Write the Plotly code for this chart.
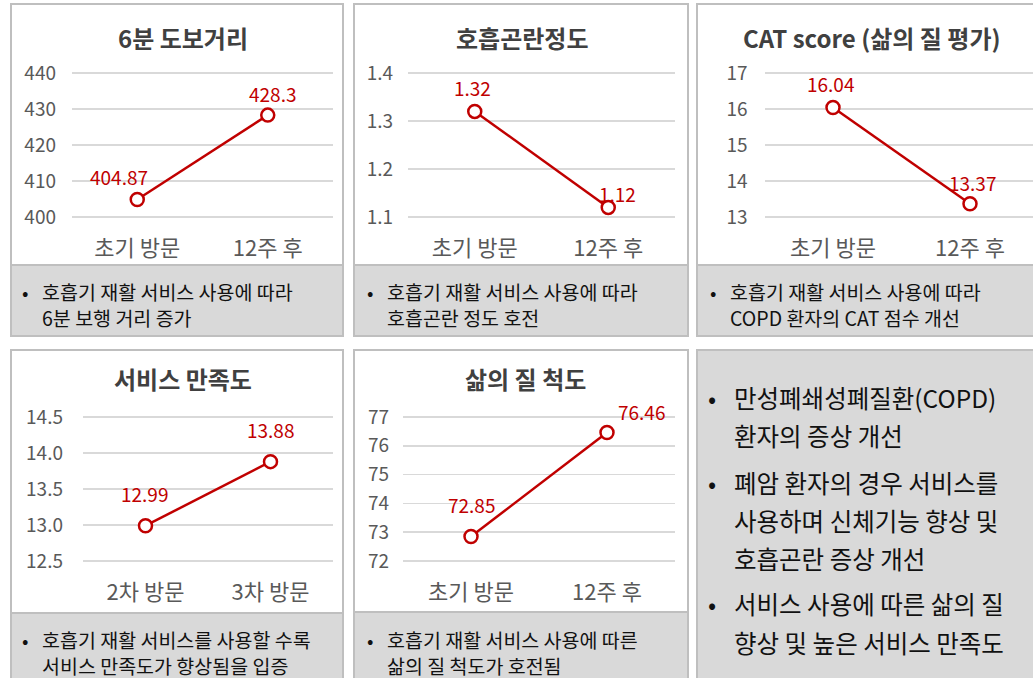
import plotly.graph_objects as go

# ---------------- data ----------------
cats_visit = ["초기 방문", "12주 후"]
cats_satis = ["2차 방문", "3차 방문"]

walk_dist = [404.87, 428.3]
dyspnea = [1.32, 1.12]
cat_score = [16.04, 13.37]
satisfaction = [12.99, 13.88]
qol = [72.85, 76.46]

walk_ticks = [400, 410, 420, 430, 440]
dysp_ticks = [1.1, 1.2, 1.3, 1.4]
cat_ticks = [13, 14, 15, 16, 17]
satis_ticks = [12.5, 13.0, 13.5, 14.0, 14.5]
qol_ticks = [72, 73, 74, 75, 76, 77]

titles = ["6분 도보거리", "호흡곤란정도", "CAT score (삶의 질 평가)", "서비스 만족도", "삶의 질 척도"]

notes = [
    ["호흡기 재활 서비스 사용에 따라", "6분 보행 거리 증가"],
    ["호흡기 재활 서비스 사용에 따라", "호흡곤란 정도 호전"],
    ["호흡기 재활 서비스 사용에 따라", "COPD 환자의 CAT 점수 개선"],
    ["호흡기 재활 서비스를 사용할 수록", "서비스 만족도가 향상됨을 입증"],
    ["호흡기 재활 서비스 사용에 따른", "삶의 질 척도가 호전됨"],
]

summary = [
    ["만성폐쇄성폐질환(COPD)", "환자의 증상 개선"],
    ["폐암 환자의 경우 서비스를", "사용하며 신체기능 향상 및", "호흡곤란 증상 개선"],
    ["서비스 사용에 따른 삶의 질", "향상 및 높은 서비스 만족도"],
]

# ---------------- layout helpers ----------------
W, H = 1033, 678
FONT = "Noto Sans CJK KR"
RED = "#C00000"
GRID = "#D9D9D9"
BORDER = "#BFBFBF"
BOXFILL = "#D9D9D9"


def fx(p):
    return p / W


def fy(p):
    return 1 - p / H


panels = [
    dict(cats=cats_visit, vals=walk_dist, ticks=walk_ticks, fmt="d",
         xpx=(72, 333), ypx=(73, 217), title_xy=(183, 37), standoff=15,
         offs=[(-18, 23), (5, 22)], box=(11, 343, 4, 336), gray=265,
         bullet_x=25, text_x=42, note_y=(291, 317)),
    dict(cats=cats_visit, vals=dyspnea, ticks=dysp_ticks, fmt=".1f",
         xpx=(408, 675), ypx=(73, 217), title_xy=(522, 37), standoff=14,
         offs=[(-2, 24), (9, 14)], box=(354, 688, 4, 336), gray=265,
         bullet_x=370, text_x=387, note_y=(291, 317)),
    dict(cats=cats_visit, vals=cat_score, ticks=cat_ticks, fmt="d",
         xpx=(764.5, 1038.5), ypx=(73, 217), title_xy=(872, 37), standoff=16,
         offs=[(-3, 24), (2, 21)], box=(697, 1045, 4, 336), gray=265,
         bullet_x=713, text_x=730, note_y=(291, 317)),
    dict(cats=cats_satis, vals=satisfaction, ticks=satis_ticks, fmt=".1f",
         xpx=(83, 333), ypx=(417, 561), title_xy=(183, 378), standoff=19,
         offs=[(-1, 32), (0, 32)], box=(11, 343, 350, 700), gray=613,
         bullet_x=25, text_x=42, note_y=(639, 665)),
    dict(cats=cats_visit, vals=qol, ticks=qol_ticks, fmt="d",
         xpx=(403, 675), ypx=(417, 561), title_xy=(525, 378), standoff=13,
         offs=[(0, 32), (34, 21)], box=(354, 688, 350, 700), gray=612,
         bullet_x=370, text_x=387, note_y=(639, 665)),
]

fig = go.Figure()
annotations = []
shapes = []
PAD = 0.03

for i, p in enumerate(panels):
    n = i + 1
    xa = "xaxis" if n == 1 else f"xaxis{n}"
    ya = "yaxis" if n == 1 else f"yaxis{n}"
    xr = "x" if n == 1 else f"x{n}"
    yr = "y" if n == 1 else f"y{n}"

    left, right = p["xpx"]
    k = (right - left) / 2.0
    xhi = 1.5
    if right > W:
        xhi = -0.5 + (W - left) / k
        right = W
    vmin, vmax = min(p["ticks"]), max(p["ticks"])
    span = vmax - vmin
    ptop, pbot = p["ypx"]
    ppu = (pbot - ptop) / span
    yrange = [vmin - PAD * span, vmax + PAD * span]
    top_px = ptop - PAD * span * ppu
    bot_px = pbot + PAD * span * ppu

    fig.add_trace(go.Scatter(
        x=p["cats"], y=p["vals"], mode="lines+markers",
        line=dict(color=RED, width=2.5),
        marker=dict(symbol="circle", size=13, color="white",
                    line=dict(color=RED, width=2.5)),
        xaxis=xr, yaxis=yr, showlegend=False, cliponaxis=False,
        hoverinfo="skip",
    ))

    fig.update_layout(**{
        xa: dict(domain=[fx(left), fx(right)], type="category",
                 range=[-0.5, xhi], showgrid=False, showline=False,
                 zeroline=False, ticks="", anchor=yr, automargin=False,
                 tickfont=dict(family=FONT, size=22, color="#595959"),
                 ticklabelstandoff=12),
        ya: dict(domain=[fy(bot_px), fy(top_px)], range=yrange,
                 tickvals=p["ticks"], tickformat=p["fmt"],
                 showgrid=True, gridcolor=GRID, gridwidth=1.5,
                 showline=False, zeroline=False, ticks="", anchor=xr,
                 automargin=False,
                 tickfont=dict(family=FONT, size=19, color="#595959"),
                 ticklabelstandoff=p["standoff"]),
    })

    for c, v, (dx, dy) in zip(p["cats"], p["vals"], p["offs"]):
        annotations.append(dict(
            x=c, y=v, xref=xr, yref=yr, text=f"{v}", showarrow=False,
            xshift=dx, yshift=dy,
            font=dict(family=FONT, size=19, color=RED)))

    tx, ty = p["title_xy"]
    annotations.append(dict(
        x=fx(tx), y=fy(ty), xref="paper", yref="paper",
        text=f"<b>{titles[i]}</b>", showarrow=False,
        xanchor="center", yanchor="middle",
        font=dict(family=FONT, size=24, color="#404040")))

    bx0, bx1, by0, by1 = p["box"]
    shapes.append(dict(type="rect", xref="paper", yref="paper",
                       x0=fx(bx0), x1=fx(bx1), y0=fy(by1), y1=fy(by0),
                       line=dict(color=BORDER, width=2),
                       fillcolor="white", layer="below"))
    shapes.append(dict(type="rect", xref="paper", yref="paper",
                       x0=fx(bx0), x1=fx(bx1), y0=fy(by1), y1=fy(p["gray"]),
                       line=dict(color=BORDER, width=2),
                       fillcolor=BOXFILL, layer="below"))

    y0, y1 = p["note_y"]
    annotations.append(dict(
        x=fx(p["bullet_x"]), y=fy(y0), xref="paper", yref="paper",
        text="•", showarrow=False, xanchor="center", yanchor="middle",
        borderpad=0, borderwidth=0,
        font=dict(family=FONT, size=19, color="#111111")))
    for line, ly in zip(notes[i], p["note_y"]):
        annotations.append(dict(
            x=fx(p["text_x"]), y=fy(ly), xref="paper", yref="paper",
            text=line, showarrow=False, xanchor="left", yanchor="middle",
            borderpad=0, borderwidth=0,
            font=dict(family=FONT, size=19.5, color="#111111")))

shapes.append(dict(type="rect", xref="paper", yref="paper",
                   x0=fx(697), x1=fx(1045), y0=fy(700), y1=fy(350),
                   line=dict(color=BORDER, width=2),
                   fillcolor=BOXFILL, layer="below"))
summary_y = [[397, 435], [482, 520, 558], [603, 642]]
for group, ys in zip(summary, summary_y):
    annotations.append(dict(
        x=fx(712), y=fy(ys[0]), xref="paper", yref="paper",
        text="•", showarrow=False, xanchor="center", yanchor="middle",
        font=dict(family=FONT, size=24, color="#111111")))
    for line, ly in zip(group, ys):
        annotations.append(dict(
            x=fx(732), y=fy(ly), xref="paper", yref="paper",
            text=line, showarrow=False, xanchor="left", yanchor="middle",
            font=dict(family=FONT, size=24.5, color="#111111")))

fig.update_layout(
    width=W, height=H,
    margin=dict(l=0, r=0, t=0, b=0, pad=0, autoexpand=False),
    paper_bgcolor="white", plot_bgcolor="rgba(0,0,0,0)",
    font=dict(family=FONT),
    shapes=shapes, annotations=annotations,
    showlegend=False,
)

fig.write_html(
    "out.html",
    config={"displayModeBar": False, "staticPlot": True},
    post_script=(
        "document.body.style.margin='0';"
        "document.body.style.overflow='hidden';"
        "document.documentElement.style.overflow='hidden';"
    ),
)
